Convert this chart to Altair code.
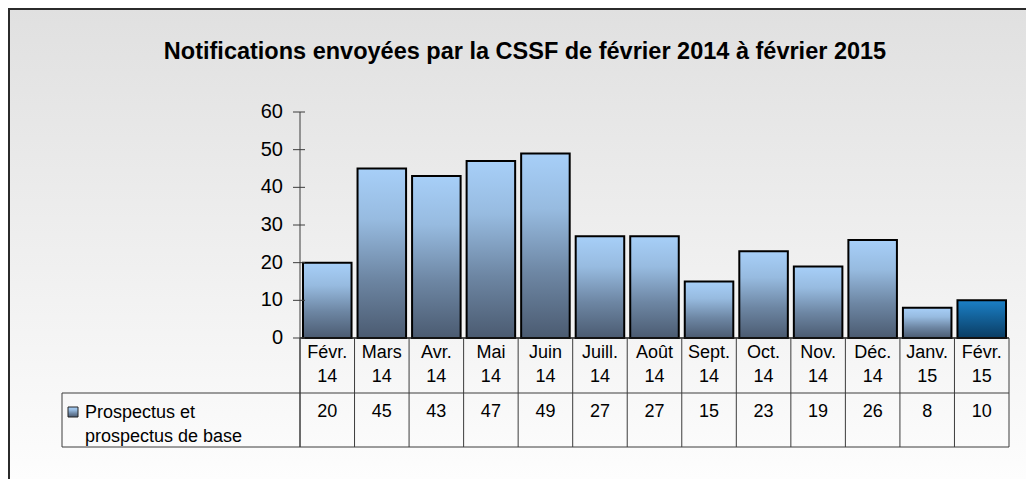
import altair as alt
import pandas as pd

months = ["Févr.", "Mars", "Avr.", "Mai", "Juin", "Juill.", "Août", "Sept.", "Oct.", "Nov.", "Déc.", "Janv.", "Févr."]
years = ["14", "14", "14", "14", "14", "14", "14", "14", "14", "14", "14", "15", "15"]
values = [20, 45, 43, 47, 49, 27, 27, 15, 23, 19, 26, 8, 10]
y_ticks = [0, 10, 20, 30, 40, 50, 60]
title_text = "Notifications envoyées par la CSSF de février 2014 à février 2015"
legend_lines = ["Prospectus et", "prospectus de base"]

cats = [f"{m} {y}" for m, y in zip(months, years)]
df = pd.DataFrame({
    "cat": cats, "month": months, "year": years, "v": values,
    "last": [i == len(cats) - 1 for i in range(len(cats))],
})
ticks_df = pd.DataFrame({"t": y_ticks})
legend_df = pd.DataFrame({"line": legend_lines, "yy": [306, 330]})
one = pd.DataFrame({"a": [0]})

FONT = "Liberation Sans"
W, H = 709, 226
LINE = "#3c3c3c"

xs = alt.Scale(domain=cats, paddingInner=0, paddingOuter=0)
ys = alt.Scale(domain=[0, 60], nice=False, zero=True)
X = alt.X("cat:N", scale=xs, axis=None)

grad_bg = alt.LinearGradient(gradient="linear", x1=0, y1=0, x2=0, y2=1,
                             stops=[alt.GradientStop(offset=0, color="#e0e0e0"),
                                    alt.GradientStop(offset=1, color="#fdfdfd")])
grad_bar = alt.LinearGradient(gradient="linear", x1=0, y1=0, x2=0, y2=1,
                              stops=[alt.GradientStop(offset=0, color="#a7cff8"),
                                     alt.GradientStop(offset=0.3, color="#97bbe0"),
                                     alt.GradientStop(offset=0.65, color="#6d86a3"),
                                     alt.GradientStop(offset=1, color="#4b5b71")])
grad_last = alt.LinearGradient(gradient="linear", x1=0, y1=0, x2=0, y2=1,
                               stops=[alt.GradientStop(offset=0, color="#1b80c7"),
                                      alt.GradientStop(offset=1, color="#0a3c62")])

bg = alt.Chart(one).mark_rect(fill=grad_bg).encode(
    x=alt.value(-292), x2=alt.value(726), y=alt.value(-104), y2=alt.value(367))
border = alt.Chart(one).mark_rect(fillOpacity=0, stroke="#2b2b2b", strokeWidth=2).encode(
    x=alt.value(-291), x2=alt.value(780), y=alt.value(-103), y2=alt.value(420))
title = alt.Chart(one).mark_text(text=title_text, fontSize=23.5, fontWeight="bold", font=FONT,
                                 align="center", baseline="alphabetic", color="black").encode(
    x=alt.value(225), y=alt.value(-53))

bars = alt.Chart(df).transform_filter("!datum.last").mark_bar(
    fill=grad_bar, stroke="black", strokeWidth=2, width=alt.RelativeBandSize(0.89)).encode(
    x=X, y=alt.Y("v:Q", scale=ys, axis=None))
bar_last = alt.Chart(df).transform_filter("datum.last").mark_bar(
    fill=grad_last, stroke="black", strokeWidth=2, width=alt.RelativeBandSize(0.89)).encode(
    x=X, y=alt.Y("v:Q", scale=ys, axis=None))

tick_rules = alt.Chart(ticks_df).mark_rule(color=LINE, strokeWidth=1).encode(
    x=alt.value(-7), x2=alt.value(5), y=alt.Y("t:Q", scale=ys, axis=None))
tick_labels = alt.Chart(ticks_df).mark_text(align="right", baseline="middle", fontSize=20,
                                            font=FONT, color="black").encode(
    x=alt.value(-17), y=alt.Y("t:Q", scale=ys, axis=None), text="t:Q")

y_axis_line = alt.Chart(one).mark_rule(color=LINE, strokeWidth=1).encode(
    x=alt.value(0), y=alt.value(0), y2=alt.value(335))
x_axis_line = alt.Chart(one).mark_rule(color="#1a1a1a", strokeWidth=1.5).encode(
    x=alt.value(0), x2=alt.value(W), y=alt.value(H))

col_lines = alt.Chart(df).mark_rule(color=LINE, strokeWidth=1).encode(
    x=alt.X("cat:N", scale=xs, axis=None, bandPosition=0), y=alt.value(H), y2=alt.value(335))
right_line = alt.Chart(one).mark_rule(color=LINE, strokeWidth=1).encode(
    x=alt.value(W), y=alt.value(H), y2=alt.value(335))
h_mid = alt.Chart(one).mark_rule(color=LINE, strokeWidth=1).encode(
    x=alt.value(-238), x2=alt.value(W), y=alt.value(281))
h_bot = alt.Chart(one).mark_rule(color=LINE, strokeWidth=1).encode(
    x=alt.value(-238), x2=alt.value(W), y=alt.value(335))
leg_left = alt.Chart(one).mark_rule(color=LINE, strokeWidth=1).encode(
    x=alt.value(-238), y=alt.value(281), y2=alt.value(335))

txt = dict(fontSize=18, font=FONT, color="black", baseline="alphabetic")
month_t = alt.Chart(df).mark_text(align="center", **txt).encode(x=X, y=alt.value(246), text="month:N")
year_t = alt.Chart(df).mark_text(align="center", **txt).encode(x=X, y=alt.value(270), text="year:N")
val_t = alt.Chart(df).mark_text(align="center", **txt).encode(x=X, y=alt.value(305), text="v:Q")

leg_sq = alt.Chart(one).mark_rect(fill=grad_bar, stroke="#222222", strokeWidth=1).encode(
    x=alt.value(-232), x2=alt.value(-222), y=alt.value(295), y2=alt.value(305))
leg_t = alt.Chart(legend_df).mark_text(align="left", **txt).encode(
    x=alt.value(-215), y=alt.Y("yy:Q", scale=None, axis=None), text="line:N")

chart = alt.layer(
    bg, border, title, bars, bar_last, x_axis_line, y_axis_line, tick_rules, tick_labels,
    col_lines, right_line, h_mid, h_bot, leg_left, month_t, year_t, val_t, leg_sq, leg_t
).properties(
    width=W, height=H,
    padding={"left": 292, "top": 104, "right": 17, "bottom": 141},
    autosize=alt.AutoSizeParams(type="none"),
).configure_view(stroke=None)

chart.save("out.html", embed_options={"renderer": "svg", "actions": False})
